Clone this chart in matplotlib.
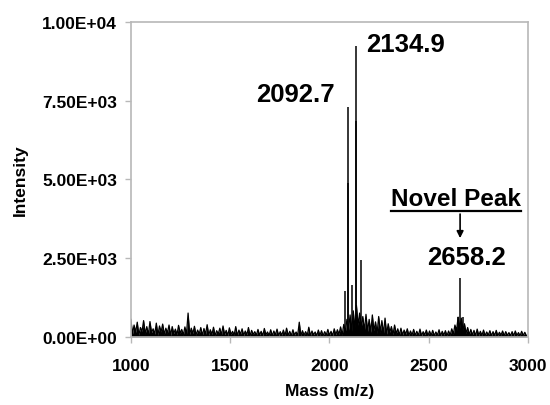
import numpy as np
import matplotlib
matplotlib.use('Agg')
import matplotlib.pyplot as plt
from matplotlib.ticker import FuncFormatter

plt.rcParams['font.family'] = ['Liberation Sans', 'DejaVu Sans']
plt.rcParams['font.weight'] = 'bold'

# baseline noise, one value every 8 m/z from 1000 to 3000
noise_start = 1000
noise_step = 8
noise_int = [
    560, 90, 380, 150, 470, 60, 300, 180, 520, 100,
    330, 70, 490, 140, 260, 90, 440, 60, 350, 160,
    410, 80, 280, 130, 380, 50, 330, 110, 250, 70,
    370, 120, 240, 60, 320, 90, 760, 80, 280, 110,
    340, 60, 220, 100, 300, 50, 270, 90, 390, 60,
    230, 80, 310, 40, 200, 100, 280, 60, 350, 70,
    210, 50, 290, 80, 180, 60, 330, 40, 220, 90,
    260, 50, 190, 70, 300, 40, 210, 80, 170, 50,
    240, 60, 180, 40, 270, 70, 160, 50, 230, 40,
    190, 70, 250, 40, 170, 60, 220, 40, 280, 50,
    180, 40, 230, 60, 160, 50, 470, 40, 200, 60,
    170, 50, 310, 40, 190, 70, 160, 40, 220, 50,
    200, 40, 170, 60, 240, 50, 180, 40, 260, 70,
    230, 80, 320, 60, 400, 150, 560, 220, 700, 180,
    830, 250, 1000, 380, 760, 300, 650, 200, 720, 180,
    560, 150, 700, 200, 480, 120, 650, 150, 520, 110,
    600, 90, 420, 150, 330, 70, 380, 100, 260, 60,
    280, 60, 220, 90, 260, 50, 190, 60, 240, 50,
    180, 50, 250, 40, 170, 70, 220, 40, 190, 50,
    210, 40, 160, 60, 230, 40, 180, 60, 200, 40,
    190, 60, 260, 90, 380, 200, 630, 280, 600, 220,
    420, 120, 300, 70, 240, 60, 210, 40, 250, 50,
    180, 50, 220, 40, 160, 60, 200, 40, 170, 50,
    210, 40, 150, 60, 190, 40, 170, 50, 140, 40,
    170, 40, 190, 50, 140, 40, 180, 50, 150, 40,
]
noise_mz = noise_start + noise_step * np.arange(len(noise_int))

# main peaks
peak_mz = [2076.0, 2092.7, 2093.7, 2114.0, 2134.9, 2136.0, 2158.0, 2645.0, 2658.2, 2672.0]
peak_int = [1470, 7300, 4900, 1650, 9250, 6870, 2440, 630, 1860, 630]

fig = plt.figure(figsize=(5.5, 4.06), dpi=100)
ax = fig.add_axes([0.238, 0.1675, 0.722, 0.776])

ax.fill_between(noise_mz, 0, noise_int, color='black', lw=0)
ax.plot(noise_mz, noise_int, color='black', lw=0.9)
ax.vlines(peak_mz, 0, peak_int, color='black', lw=1.1)

ax.set_xlim(1000, 3000)
ax.set_ylim(0, 10000)
ax.set_xticks([1000, 1500, 2000, 2500, 3000])
ax.set_yticks([0, 2500, 5000, 7500, 10000])
ax.yaxis.set_major_formatter(FuncFormatter(lambda v, p: format(v, '.2E')))

for s in ax.spines.values():
    s.set_color('#b8b8b8')
    s.set_linewidth(1.2)
ax.tick_params(colors='#b8b8b8', labelcolor='black', labelsize=12.5, length=4, width=1)
ax.tick_params(axis='x', pad=11)
ax.tick_params(axis='y', pad=6)
for lab in ax.get_xticklabels() + ax.get_yticklabels():
    lab.set_fontweight('bold')

ax.set_xlabel('Mass (m/z)', fontsize=12.5, fontweight='bold', labelpad=7)
ax.set_ylabel('Intensity', fontsize=12.5, fontweight='bold', labelpad=10)

ax.text(1830, 7715, '2092.7', fontsize=18.5, fontweight='bold', ha='center', va='center')
ax.text(2383, 9300, '2134.9', fontsize=18.5, fontweight='bold', ha='center', va='center')
ax.text(2690, 2524, '2658.2', fontsize=18.5, fontweight='bold', ha='center', va='center')
t = ax.text(2635, 4381, 'Novel Peak', fontsize=17.5, fontweight='bold', ha='center', va='center')

# underline under "Novel Peak"
fig.canvas.draw()
bb = t.get_window_extent()
x0 = ax.transData.inverted().transform((bb.x0, bb.y0))[0]
x1 = ax.transData.inverted().transform((bb.x1, bb.y0))[0]
ax.plot([x0, x1], [3990, 3990], color='black', lw=1.6, clip_on=False)
ax.annotate('', xy=(2658, 3050), xytext=(2658, 3990),
            arrowprops=dict(arrowstyle='-|>', color='black', lw=1.2, mutation_scale=10))

fig.savefig('out.png', dpi=100)
